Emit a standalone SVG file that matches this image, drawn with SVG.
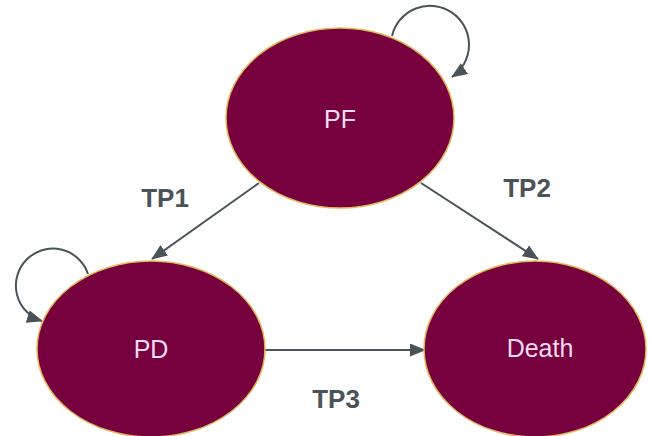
<svg xmlns="http://www.w3.org/2000/svg" width="649" height="436" viewBox="0 0 649 436">
  <style>
    .state { fill: #77003f; stroke: #e2b85a; stroke-width: 1.5; }
    .state-label { font-family: "Liberation Sans", Arial, sans-serif; font-size: 25px; fill: #f6dcf0; text-anchor: middle; }
    .edge { fill: none; stroke: #4a5358; stroke-width: 2; }
    .edge-label { font-family: "Liberation Sans", Arial, sans-serif; font-size: 26px; font-weight: bold; fill: #4a5358; text-anchor: middle; }
  </style>
  <defs>
    <marker id="arrow" viewBox="0 0 16 13" markerWidth="16" markerHeight="13" refX="15" refY="6.5" orient="auto" markerUnits="userSpaceOnUse">
      <path d="M0,0 L16,6.5 L0,13 z" fill="#4a5358"/>
    </marker>
  </defs>
  <rect width="649" height="436" fill="#ffffff"/>

  <g id="connectors">
    <!-- PF self-loop -->
    <path class="edge" d="M392,36 A39,39 0 1 1 452,77" marker-end="url(#arrow)"/>
    <!-- PD self-loop -->
    <path class="edge" d="M88,274 A37,37 0 1 0 42,321" marker-end="url(#arrow)"/>
    <!-- TP1: PF to PD -->
    <line class="edge" x1="259" y1="183" x2="152" y2="259" marker-end="url(#arrow)"/>
    <!-- TP2: PF to Death -->
    <line class="edge" x1="421" y1="183" x2="538" y2="259" marker-end="url(#arrow)"/>
    <!-- TP3: PD to Death -->
    <line class="edge" x1="265" y1="350" x2="425" y2="350" marker-end="url(#arrow)"/>
  </g>

  <g id="node-pf">
    <ellipse class="state" cx="340" cy="118" rx="114" ry="90"/>
    <text class="state-label" x="340" y="128">PF</text>
  </g>
  <g id="node-pd">
    <ellipse class="state" cx="151" cy="349" rx="114" ry="88"/>
    <text class="state-label" x="151" y="358">PD</text>
  </g>
  <g id="node-death">
    <ellipse class="state" cx="535" cy="349" rx="111" ry="88"/>
    <text class="state-label" x="540" y="357">Death</text>
  </g>

  <g id="edge-labels">
    <text class="edge-label" x="165" y="207">TP1</text>
    <text class="edge-label" x="527" y="197">TP2</text>
    <text class="edge-label" x="336" y="408">TP3</text>
  </g>
</svg>
